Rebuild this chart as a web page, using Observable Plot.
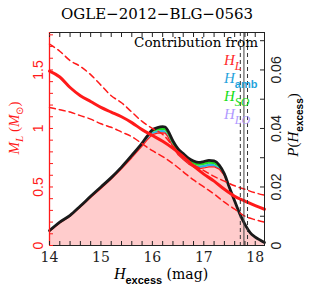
<!DOCTYPE html>
<html><head><meta charset="utf-8">
<script src="https://cdn.jsdelivr.net/npm/d3@7"></script>
<script src="https://cdn.jsdelivr.net/npm/@observablehq/plot@0.6"></script>
<style>body{margin:0;background:#fff}#chart{width:311px;height:292px}</style>
</head><body><div id="chart"></div>
<script>
// ---- data ----
const title = "OGLE\u22122012\u2212BLG\u22120563";
// M_L (lens mass) vs H_excess: median and 1-sigma bounds
const hM = [14.0,14.2,14.4,14.6,14.8,15.0,15.2,15.4,15.6,15.8,16.0,16.2,16.4,16.6,16.8,17.0,17.2,17.4,17.6,17.8,18.0,18.18];
const mMedian = [1.49,1.44,1.35,1.28,1.23,1.18,1.14,1.10,1.05,0.99,0.94,0.89,0.83,0.76,0.68,0.61,0.55,0.48,0.42,0.38,0.34,0.31];
const mUpper  = [1.72,1.66,1.58,1.53,1.46,1.37,1.28,1.22,1.14,1.06,1.00,0.95,0.85,0.75,0.69,0.64,0.59,0.55,0.51,0.48,0.45,0.43];
const mLower  = [1.18,1.16,1.14,1.11,1.08,1.04,1.01,0.97,0.93,0.87,0.81,0.76,0.70,0.63,0.56,0.50,0.44,0.37,0.31,0.25,0.22,0.20];
// P(H_excess): stacked contributions
const hP = [14.0,14.2,14.4,14.6,14.8,15.0,15.2,15.4,15.6,15.8,15.9,16.0,16.1,16.2,16.25,16.3,16.4,16.5,16.6,16.7,16.8,16.9,17.0,17.1,17.2,17.3,17.4,17.5,17.6,17.7,17.8,17.9,18.0,18.1,18.18];
const pL   = [.0048,.0077,.0100,.0131,.0164,.0195,.0227,.0262,.0300,.0340,.0361,.0379,.0384,.0385,.0384,.0372,.0337,.0310,.0294,.0279,.0268,.0262,.0265,.0269,.0269,.0261,.0239,.0195,.0151,.0108,.0072,.0044,.0029,.0018,.0010];
const pAmb = [.00012,.00012,.00012,.00016,.00016,.0002,.0002,.00024,.00032,.0004,.00052,.00064,.00076,.00084,.00084,.00084,.0008,.0008,.0008,.0008,.00084,.00088,.00088,.00088,.0008,.00056,.00024,.00008,.00004,0,0,0,0,0,0];
const pSO  = [.00012,.00012,.00012,.00016,.00016,.0002,.0002,.00024,.00032,.0004,.00052,.00064,.00076,.00084,.00084,.00084,.0008,.0008,.0008,.0008,.00084,.00088,.00088,.00088,.0008,.00056,.00024,.00008,.00004,0,0,0,0,0,0];
const pLO  = [.00006,.00006,.00006,.00008,.00008,.0001,.0001,.00012,.00016,.0002,.00026,.00032,.00038,.00042,.00042,.00042,.0004,.0004,.0004,.0004,.00042,.00044,.00044,.00044,.0004,.00028,.00012,.00004,.00002,0,0,0,0,0,0];
const comps = ["H_L","H_amb","H_SO","H_LO"];
const compFills = ["#ffcccc","#2ab4e4","#22dd22","#ad8fff"];
const vDashed = [17.71, 17.85];
const vSolid = [17.78];
const xTickLabels = [14,15,16,17,18];
const mTickLabels = [0,0.5,1,1.5];
const pTickValues = [0,0.02,0.04,0.06];
const pTickLabels = ["0","0.02","0.04","0.06"];

// ---- build ----
const K = 25; // P -> M_L display units (0.02 <-> 0.5 share a gridline)
const series = [pL, pAmb, pSO, pLO];
const rows = [];
comps.forEach((c, j) => hP.forEach((h, i) => rows.push({h, comp: c, p: series[j][i]})));
const idx = d3.range(hP.length);
const total = idx.map(i => pL[i] + pAmb[i] + pSO[i] + pLO[i]);
const mIdx = d3.range(hM.length);

const xMinor = d3.range(70, 91).map(i => i / 5);
const mMinor = d3.range(0, 19).map(i => i / 10);
const pMinor = d3.range(0, 8).map(i => i / 100);

const plot = Plot.plot({
  width: 311, height: 292,
  marginLeft: 49, marginRight: 47, marginTop: 32, marginBottom: 47,
  style: {background: "white", overflow: "visible", fontFamily: "Liberation Sans"},
  x: {domain: [14, 18.18], label: null},
  y: {domain: [0, 1.82], label: null},
  color: {domain: comps, range: compFills},
  marks: [
    Plot.areaY(rows, {x: "h", y: d => d.p * K, fill: "comp"}),
    Plot.lineY(idx, {x: i => hP[i], y: i => pL[i] * K, stroke: "#ff1a1a", strokeWidth: 1.2}),
    Plot.lineY(idx, {x: i => hP[i], y: i => total[i] * K, stroke: "#1a1a1a", strokeWidth: 2.8, curve: "monotone-x"}),
    Plot.line(mIdx, {x: i => hM[i], y: i => mUpper[i], stroke: "#ff1a1a", strokeWidth: 1.5, strokeDasharray: "6,4", curve: "monotone-x"}),
    Plot.line(mIdx, {x: i => hM[i], y: i => mLower[i], stroke: "#ff1a1a", strokeWidth: 1.5, strokeDasharray: "6,4", curve: "monotone-x"}),
    Plot.line(mIdx, {x: i => hM[i], y: i => mMedian[i], stroke: "#ff1a1a", strokeWidth: 3, curve: "monotone-x"}),
    Plot.ruleX(vDashed, {stroke: "#333", strokeWidth: 1, strokeDasharray: "4,3"}),
    Plot.ruleX(vSolid, {stroke: "#444", strokeWidth: 1}),
    Plot.frame({stroke: "#222", strokeWidth: 1}),
    Plot.ruleX([14], {stroke: "#ff1a1a", strokeWidth: 1.3}),
    Plot.axisX(xMinor, {anchor: "bottom", tickSize: -4, tickPadding: 11, color: "#222",
      tickFormat: d => xTickLabels.includes(d) ? String(d) : ""}),
    Plot.axisX(xMinor, {anchor: "top", tickSize: -4, color: "#222", tickFormat: () => ""}),
    Plot.axisY(mMinor, {anchor: "left", tickSize: -4, tickPadding: 11, tickRotate: -90, color: "#ff1a1a",
      tickFormat: d => mTickLabels.includes(d) ? String(d) : ""}),
    Plot.axisY(pMinor.map(p => p * K), {anchor: "right", tickSize: -5, tickPadding: 12, tickRotate: -90, lineAnchor: "top", color: "#222",
      tickFormat: d => { const i = pTickValues.findIndex(v => Math.abs(v * K - d) < 1e-6); return i >= 0 ? pTickLabels[i] : ""; }})
  ]
});
document.getElementById("chart").appendChild(plot);

const svg = d3.select(plot);
svg.selectAll('[aria-label="x-axis tick label"]').attr("font-family", "DejaVu Serif").attr("font-size", 14);
svg.selectAll('[aria-label="y-axis tick label"]').attr("font-family", "Liberation Sans").attr("font-size", 14);
svg.selectAll('[aria-label="y-axis tick label"] text').attr("font-size", null);

// ---- rich text (titles, labels, legend) ----
function rich({x, y, rotate = 0, anchor = "start", fill = "#000", parts}) {
  const t = svg.append("text")
    .attr("transform", `translate(${x},${y}) rotate(${rotate})`)
    .attr("text-anchor", anchor).attr("fill", fill);
  for (const p of parts) {
    t.append("tspan").text(p.t)
      .attr("font-family", p.ff || "Liberation Serif")
      .attr("font-size", p.fs || 15)
      .attr("font-style", p.it ? "italic" : "normal")
      .attr("font-weight", p.b ? "bold" : "normal")
      .attr("dy", p.dy || 0);
  }
}
rich({x: 157, y: 19, anchor: "middle", parts: [{t: title, ff: "DejaVu Serif", fs: 15}]});
rich({x: 258, y: 47, anchor: "end", parts: [{t: "Contribution from", ff: "DejaVu Serif", fs: 13.5}]});
const legend = [
  {y: 65, c: "#ff2a2a", sub: "L", sb: false},
  {y: 83, c: "#1fa3dc", sub: "amb", sb: true},
  {y: 101, c: "#11dd11", sub: "SO", sb: false},
  {y: 119, c: "#b09aff", sub: "LO", sb: false}
];
legend.forEach(l => rich({x: 224, y: l.y, fill: l.c, parts: [
  {t: "H", it: true, fs: 15},
  l.sb ? {t: l.sub, ff: "Liberation Sans", b: true, fs: 11, dy: 5} : {t: l.sub, it: true, fs: 12, dy: 5}
]}));
rich({x: 19, y: 128, rotate: -90, anchor: "middle", fill: "#ff1a1a", parts: [
  {t: "M", it: true, fs: 15}, {t: "L", it: true, fs: 11, dy: 4}, {t: " (", fs: 15, dy: -4},
  {t: "M", it: true, fs: 15}, {t: "\u2299", fs: 10, dy: 4}, {t: ")", fs: 15, dy: -4}
]});
rich({x: 298, y: 125, rotate: -90, anchor: "middle", parts: [
  {t: "P", it: true, fs: 15}, {t: "(", fs: 15}, {t: "H", it: true, fs: 15},
  {t: "excess", ff: "Liberation Sans", b: true, fs: 10, dy: 5}, {t: ")", fs: 15, dy: -5}
]});
rich({x: 161, y: 279, anchor: "middle", parts: [
  {t: "H", it: true, fs: 16}, {t: "excess", ff: "Liberation Sans", b: true, fs: 11, dy: 5}, {t: " (mag)", ff: "DejaVu Serif", fs: 14, dy: -5}
]});
</script></body></html>
